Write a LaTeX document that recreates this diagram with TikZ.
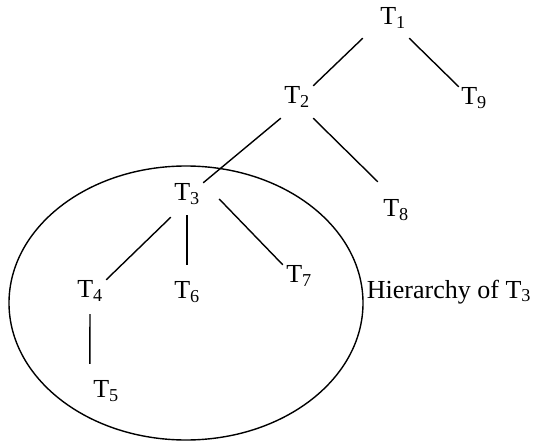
\documentclass[tikz,border=0pt]{standalone}
\usepackage{fontspec}
\setmainfont{Liberation Serif}
\usetikzlibrary{shapes.geometric,positioning}

\begin{document}
\begin{tikzpicture}[
    x=1pt, y=-1pt,
    tnode/.style={inner sep=0pt, minimum width=32pt, minimum height=22pt, font=\fontsize{26}{31}\selectfont},
    link/.style={line width=1.4pt}
]
\useasboundingbox (0,0) rectangle (533,441);
\node[tnode] (T1) at (393,18) {T\textsubscript{1}};
\node[tnode] (T2) at (297,97) {T\textsubscript{2}};
\node[tnode] (T9) at (474,98) {T\textsubscript{9}};
\node[tnode] (T3) at (187,194) {T\textsubscript{3}};
\node[tnode] (T8) at (396,210) {T\textsubscript{8}};
\node[tnode] (T4) at (90,291) {T\textsubscript{4}};
\node[tnode] (T6) at (187,292) {T\textsubscript{6}};
\node[tnode] (T7) at (299,276) {T\textsubscript{7}};
\node[tnode] (T5) at (106,391) {T\textsubscript{5}};
% the sub-tree of T3
\node[draw, ellipse, line width=1.4pt, inner sep=0pt, minimum width=354pt, minimum height=274pt] (hier) at (186,303) {};
\node[anchor=base west, inner sep=0pt, font=\fontsize{26}{31}\selectfont] (lbl) at ([shift={(3pt,5pt)}]hier.east) {Hierarchy of T\textsubscript{3}};
\draw[link] ([shift={(-14pt,-9pt)}]T1.south west) -- (T2.north east);
\draw[link] ([yshift=-9pt]T1.south east) -- ([xshift=1pt]T9.north west);
\draw[link] ([yshift=-10pt]T2.south west) -- (T3.north east);
\draw[link] ([yshift=-10pt]T2.south east) -- ([shift={(-2pt,17pt)}]T8.north west);
\draw[link] ([yshift=-12pt]T3.south west) -- (T4.north east);
\draw[link] ([yshift=-10pt]T3.south) -- ([yshift=16pt]T6.north);
\draw[link] ([shift={(16pt,-5pt)}]T3.east) -- (T7.north west);
\draw[link] ([yshift=-12pt]T4.south) -- ([yshift=16pt]T5.north west);
\end{tikzpicture}
\end{document}
